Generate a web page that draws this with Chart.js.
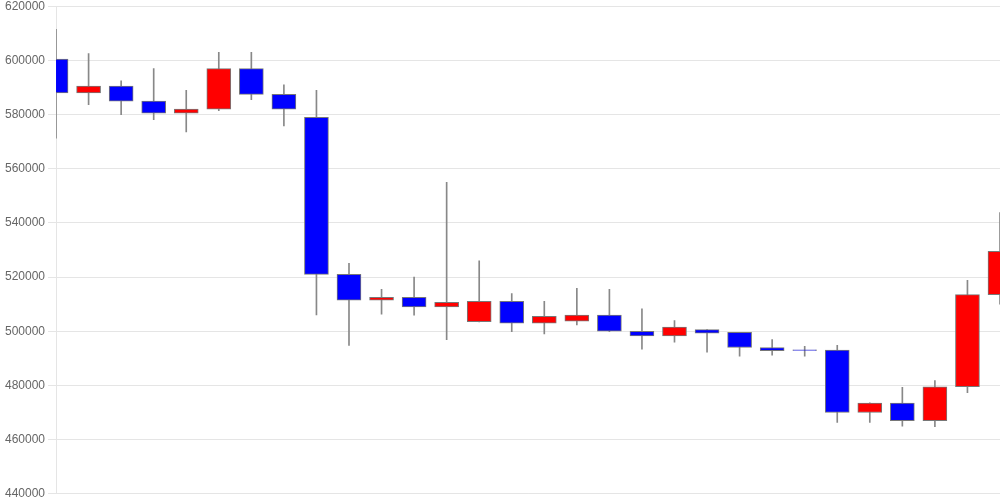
<!DOCTYPE html>
<html>
<head>
  <meta charset="UTF-8">
  <title>Candles</title>
  <script src="https://cdn.jsdelivr.net/npm/chart.js"></script>
  <style>
    body { margin: 0; background: #fff; }
    #wrap { width: 1000px; height: 500px; }
  </style>
</head>
<body>
  <div id="wrap"><canvas id="candleChart"></canvas></div>

  <script>
    const days = ['1','2','3','4','5','6','7','8','9','10','11','12','13','14','15',
                  '16','17','18','19','20','21','22','23','24','25','26','27','28','29','30'];
    const openPrices  = [600500, 588000, 590500, 585000, 580500, 582000, 597000, 587500, 579000, 521000,
                         511500, 512500, 509000, 503500, 511000, 503000, 503700, 506000, 500000, 498300,
                         500600, 499600, 494000, 493100, 493000, 470000, 473500, 467000, 479500, 513500];
    const closePrices = [588000, 590500, 585000, 580500, 582000, 597000, 587500, 582000, 521000, 511500,
                         512500, 509000, 510700, 511000, 503000, 505500, 506000, 500000, 498300, 501500,
                         499300, 494000, 492800, 492900, 470000, 473500, 467000, 479500, 513500, 529500];
    const highPrices  = [611500, 602500, 592500, 597000, 589000, 603000, 603000, 591000, 589000, 525100,
                         515500, 520000, 555000, 526000, 513900, 511000, 515800, 515500, 508300, 503900,
                         500600, 499600, 496900, 494400, 494800, 473600, 479300, 481800, 518800, 543800];
    const lowPrices   = [571300, 583700, 580000, 578100, 573600, 581500, 585500, 575800, 506000, 494800,
                         506300, 505900, 496900, 503400, 499800, 499000, 502300, 499800, 493400, 496000,
                         492300, 490800, 491200, 490800, 466300, 466300, 464900, 464800, 477300, 510000];

    const yTicks = { min: 440000, max: 620000, step: 20000 };

    const bodies = openPrices.map((o, i) => [Math.min(o, closePrices[i]), Math.max(o, closePrices[i])]);
    const wicks = lowPrices.map((l, i) => [l, highPrices[i]]);
    const bodyColors = openPrices.map((o, i) => closePrices[i] >= o ? '#ff0000' : '#0000ff');

    new Chart(document.getElementById('candleChart'), {
      type: 'bar',
      data: {
        labels: days,
        datasets: [
          {
            label: 'body',
            data: bodies,
            backgroundColor: bodyColors,
            borderColor: '#777777',
            borderWidth: 1,
            borderSkipped: false,
            barThickness: 24,
            grouped: false
          },
          {
            label: 'wick',
            data: wicks,
            backgroundColor: '#888888',
            borderWidth: 0,
            barThickness: 1,
            grouped: false
          }
        ]
      },
      options: {
        responsive: true,
        maintainAspectRatio: false,
        animation: false,
        layout: { padding: { left: 2 } },
        plugins: { legend: { display: false }, tooltip: { enabled: false } },
        scales: {
          x: {
            offset: false,
            display: false
          },
          y: {
            min: yTicks.min,
            max: yTicks.max,
            ticks: {
              stepSize: yTicks.step,
              color: '#666',
              font: { family: 'Liberation Sans, Arial', size: 12, lineHeight: 0.55 },
              callback: (v) => String(v)
            },
            grid: { color: 'rgba(0,0,0,0.1)' },
            border: { color: 'rgba(0,0,0,0.1)' }
          }
        }
      }
    });
  </script>
</body>
</html>
